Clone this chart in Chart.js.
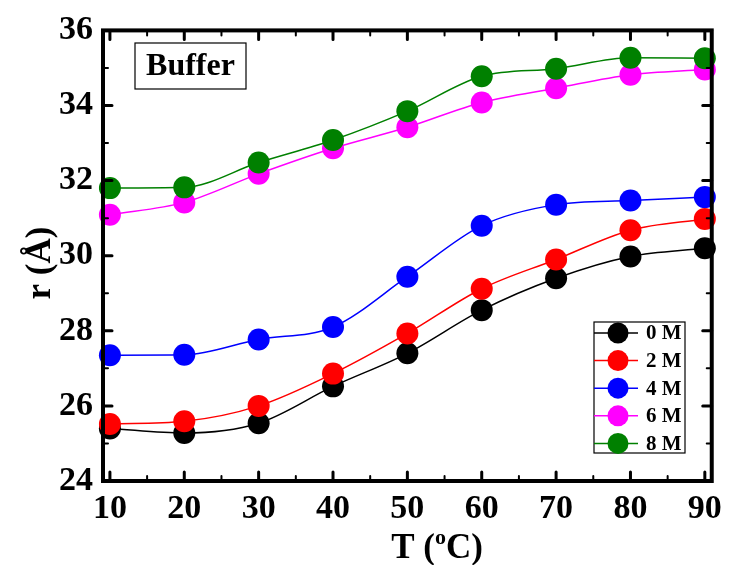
<!DOCTYPE html>
<html>
<head>
<meta charset="utf-8">
<title>r vs T</title>
<script src="https://cdn.jsdelivr.net/npm/chart.js@4.4.1/dist/chart.umd.min.js"></script>
<style>
    html, body { margin: 0; padding: 0; background: #fff; }
    #wrap { width: 730px; height: 565px; }
</style>
</head>
<body>
<div id="wrap"><canvas id="chart" width="730" height="565"></canvas></div>
<script>
// Data
const temps = [10, 20, 30, 40, 50, 60, 70, 80, 90];
const r0M = [25.40, 25.28, 25.54, 26.52, 27.40, 28.55, 29.40, 29.98, 30.20];
const r2M = [25.52, 25.59, 26.00, 26.86, 27.93, 29.12, 29.90, 30.68, 30.98];
const r4M = [27.35, 27.36, 27.77, 28.10, 29.44, 30.80, 31.36, 31.47, 31.56];
const r6M = [31.09, 31.42, 32.18, 32.86, 33.42, 34.08, 34.46, 34.82, 34.96];
const r8M = [31.80, 31.82, 32.48, 33.08, 33.85, 34.78, 34.98, 35.27, 35.26];
const seriesLabels = ['0 M', '2 M', '4 M', '6 M', '8 M'];
const seriesColors = ['#000000', '#ff0000', '#0000ff', '#ff00ff', '#008000'];
const xTicks = [10, 20, 30, 40, 50, 60, 70, 80, 90];
const xMinor = [15, 25, 35, 45, 55, 65, 75, 85];
const yTicks = [24, 26, 28, 30, 32, 34, 36];
const yMinor = [25, 27, 29, 31, 33, 35];

const allSeries = [r0M, r2M, r4M, r6M, r8M];
const serif = "'Liberation Serif', 'Times New Roman', serif";

// Frame, inside ticks, legend, label box and axis titles
const decorPlugin = {
    id: 'decor',
    afterDatasetsDraw(chart) {
        const { ctx, chartArea: a, scales } = chart;
        const xs = scales.x, ys = scales.y;
        ctx.save();
        ctx.strokeStyle = '#000';
        ctx.lineCap = 'round';

        // ticks on all four sides
        const tick = (vals, len, w) => {
            ctx.lineWidth = w;
            ctx.beginPath();
            vals.forEach(v => {
                const px = xs.getPixelForValue(v);
                ctx.moveTo(px, a.bottom); ctx.lineTo(px, a.bottom - len);
                ctx.moveTo(px, a.top); ctx.lineTo(px, a.top + len);
            });
            ctx.stroke();
        };
        const tickY = (vals, len, w) => {
            ctx.lineWidth = w;
            ctx.beginPath();
            vals.forEach(v => {
                const py = ys.getPixelForValue(v);
                ctx.moveTo(a.left, py); ctx.lineTo(a.left + len, py);
                ctx.moveTo(a.right, py); ctx.lineTo(a.right - len, py);
            });
            ctx.stroke();
        };
        tick(xTicks, 9, 3);
        tick(xMinor, 5, 2);
        tickY(yTicks, 9, 3);
        tickY(yMinor, 5, 2);

        // frame
        ctx.lineCap = 'butt';
        ctx.lineWidth = 4;
        ctx.strokeRect(a.left, a.top, a.right - a.left, a.bottom - a.top);

        // "Buffer" box
        ctx.lineWidth = 1.2;
        ctx.strokeRect(135, 43, 111, 46);
        ctx.fillStyle = '#000';
        ctx.font = 'bold 32px ' + serif;
        ctx.textAlign = 'center';
        ctx.textBaseline = 'middle';
        ctx.fillText('Buffer', 190.5, 67);

        // legend
        const lx = 594, ly = 322, lw = 91, lh = 131;
        ctx.lineWidth = 1.2;
        ctx.strokeStyle = '#000';
        ctx.strokeRect(lx, ly, lw, lh);
        chart.data.datasets.forEach((ds, i) => {
            const cy = 333 + i * 27.6;
            ctx.strokeStyle = ds.borderColor;
            ctx.lineWidth = 1.5;
            ctx.beginPath();
            ctx.moveTo(lx, cy); ctx.lineTo(lx + 44, cy);
            ctx.stroke();
            ctx.fillStyle = ds.backgroundColor;
            ctx.beginPath();
            ctx.arc(lx + 24, cy, 10.5, 0, Math.PI * 2);
            ctx.fill();
            ctx.fillStyle = '#000';
            ctx.font = 'bold 21px ' + serif;
            ctx.textAlign = 'left';
            ctx.textBaseline = 'middle';
            ctx.fillText(ds.label, lx + 52, cy + 1);
        });

        // x title: T (°C) with superscript o
        ctx.fillStyle = '#000';
        ctx.textBaseline = 'alphabetic';
        ctx.textAlign = 'left';
        const big = 'bold 35px ' + serif, small = 'bold 22px ' + serif;
        ctx.font = big;
        const p1 = 'T (', p3 = 'C)';
        const w1 = ctx.measureText(p1).width, w3 = ctx.measureText(p3).width;
        ctx.font = small;
        const w2 = ctx.measureText('o').width;
        let tx = 437 - (w1 + w2 + w3) / 2;
        const by = 558;
        ctx.font = big; ctx.fillText(p1, tx, by); tx += w1;
        ctx.font = small; ctx.fillText('o', tx, by - 14); tx += w2;
        ctx.font = big; ctx.fillText(p3, tx, by);

        // y title
        ctx.save();
        ctx.translate(50, 263);
        ctx.rotate(-Math.PI / 2);
        ctx.font = big;
        ctx.textAlign = 'center';
        ctx.fillText('r (\u00C5)', 0, 0);
        ctx.restore();

        ctx.restore();
    }
};

const datasets = allSeries.map((vals, i) => ({
    label: seriesLabels[i],
    data: temps.map((t, k) => ({ x: t, y: vals[k] })),
    borderColor: seriesColors[i],
    backgroundColor: seriesColors[i],
    borderWidth: 1.5,
    pointRadius: 11,
    pointHoverRadius: 11,
    pointBorderWidth: 0,
    cubicInterpolationMode: 'monotone',
    order: allSeries.length - i,
    clip: 14
}));

new Chart(document.getElementById('chart'), {
    type: 'line',
    data: { datasets },
    plugins: [decorPlugin],
    options: {
        responsive: false,
        animation: false,
        layout: { padding: { left: 0, right: 15, top: 25, bottom: 0 } },
        plugins: {
            legend: { display: false },
            tooltip: { enabled: false }
        },
        scales: {
            x: {
                type: 'linear',
                min: 9.07,
                max: 90.93,
                afterBuildTicks: s => { s.ticks = xTicks.map(v => ({ value: v })); },
                afterFit: s => { s.height = 84; },
                grid: { display: false, drawTicks: false },
                border: { display: false },
                ticks: {
                    color: '#000',
                    padding: 8,
                    maxRotation: 0,
                    font: { family: serif, size: 34, weight: 'bold' }
                }
            },
            y: {
                min: 24,
                max: 36,
                afterBuildTicks: s => { s.ticks = yTicks.map(v => ({ value: v })); },
                afterFit: s => { s.width = 103; },
                grid: { display: false, drawTicks: false },
                border: { display: false },
                ticks: {
                    color: '#000',
                    padding: 10,
                    font: { family: serif, size: 34, weight: 'bold' }
                }
            }
        }
    }
});
</script>
</body>
</html>
